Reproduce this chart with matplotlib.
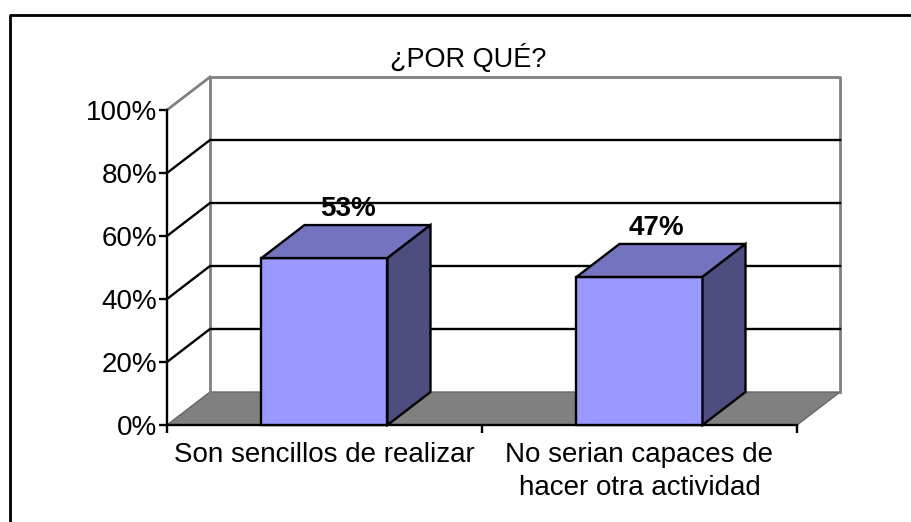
import matplotlib
matplotlib.use('Agg')
import matplotlib.pyplot as plt
from matplotlib.patches import Polygon
from matplotlib.lines import Line2D

categories = ['Son sencillos de realizar', 'No serian capaces de\nhacer otra actividad']
values = [53, 47]
labels = ['53%', '47%']
yticks = [0, 20, 40, 60, 80, 100]

W, H = 912, 522
left, right, top, bottom = 167, 797, 110, 425

plt.rcParams['font.family'] = ['Liberation Sans', 'DejaVu Sans']

fig = plt.figure(figsize=(W / 100, H / 100), dpi=100)
ax = fig.add_axes([left / W, 1 - bottom / H, (right - left) / W, (bottom - top) / H])
ax.set_xlim(0, 2)
ax.set_ylim(0, 100)
ax.patch.set_alpha(0)

# depth of the fake 3d box, in data units
dx = 43 / 315
dy = 33 / 3.15
bar_w = 0.4

grey = '#808080'
lw = 1.7

# label nudge per bar, in pixels from the bar centre
label_off = [23.5, 16.5]

# floor
ax.add_patch(Polygon([(0, 0), (dx, dy), (2 + dx, dy), (2, 0)], closed=True, fc=grey, ec='#666666', lw=1, clip_on=False, zorder=1))
# back walls
ax.plot([dx, dx, 2 + dx, 2 + dx], [dy, 100 + dy, 100 + dy, dy], color=grey, lw=2, clip_on=False, zorder=2)
ax.plot([0, dx], [100, 100 + dy], color=grey, lw=2, clip_on=False, zorder=2)

# gridlines
for t in yticks[1:-1]:
    ax.plot([0, dx, 2 + dx], [t, t + dy, t + dy], color='black', lw=lw, clip_on=False, zorder=3)

# bars
for i, v in enumerate(values):
    x0 = i + 0.5 - bar_w / 2
    x1 = x0 + bar_w
    ax.add_patch(Polygon([(x0, 0), (x1, 0), (x1, v), (x0, v)], closed=True, fc='#9999FF', ec='black', lw=lw, clip_on=False, zorder=5))
    ax.add_patch(Polygon([(x0, v), (x1, v), (x1 + dx, v + dy), (x0 + dx, v + dy)], closed=True, fc='#7373BF', ec='black', lw=lw, clip_on=False, zorder=5))
    ax.add_patch(Polygon([(x1, 0), (x1 + dx, dy), (x1 + dx, v + dy), (x1, v)], closed=True, fc='#4D4D80', ec='black', lw=lw, clip_on=False, zorder=5))
    ax.text(i + 0.5 + label_off[i] / 315, v + dy + 1, labels[i], ha='center', va='bottom', fontsize=20, fontweight='bold', zorder=6)

for s in ['top', 'right']:
    ax.spines[s].set_visible(False)
for s in ['left', 'bottom']:
    ax.spines[s].set_linewidth(lw)
    ax.spines[s].set_zorder(4)

ax.set_yticks(yticks)
ax.set_yticklabels(['%d%%' % t for t in yticks], fontsize=20)
ax.set_xticks([0, 1, 2])
ax.set_xticklabels([])
ax.set_xticks([0.5, 1.5], categories, minor=True, fontsize=20, linespacing=1.38)
ax.tick_params(axis='x', which='minor', length=0, pad=12)
ax.tick_params(axis='x', which='major', length=6, width=lw, direction='out')
ax.tick_params(axis='y', length=6, width=lw, pad=1)

fig.text(468 / W, 1 - 59 / H, '¿POR QUÉ?', ha='center', va='center', fontsize=19.5)

# chart frame, open on the right
fig.add_artist(Line2D([10 / W, 10 / W, 1], [0, 1 - 15 / H, 1 - 15 / H], color='black', lw=2))

fig.savefig('out.png', dpi=100)
